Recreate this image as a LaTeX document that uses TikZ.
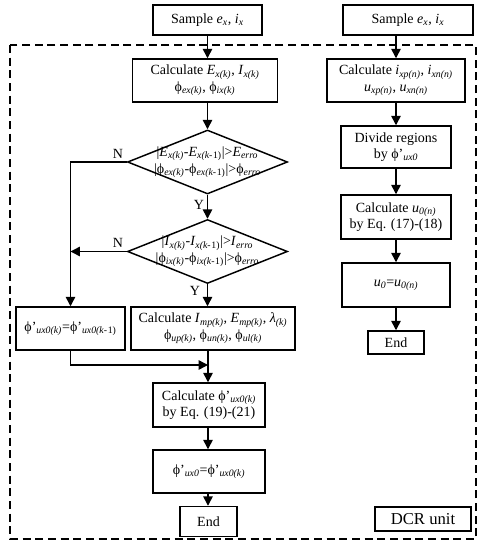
\documentclass[tikz,border=0pt]{standalone}
\usepackage{fontspec}
\setmainfont{Liberation Serif}
\usetikzlibrary{arrows.meta, positioning, shapes.geometric}

\newcommand{\ix}[1]{\textit{#1}}
\newcommand{\lo}[1]{\textsubscript{\itshape #1}}
\newcommand{\phiv}{ϕ}

\begin{document}
\begin{tikzpicture}[x=0.75pt, y=-0.75pt, font=\fontsize{10.5}{12.5}\selectfont,
  boite/.style={draw, line width=1.1pt, align=center, inner sep=1pt},
  losange/.style={draw, diamond, line width=1.1pt, inner sep=0pt, minimum width=120pt, minimum height=48pt},
  fleche/.style={line width=1.1pt, -{Triangle[length=7pt, width=7pt]}}]
  \useasboundingbox (0,0) rectangle (485,550);

  % Cadre DCR
  \draw[line width=1.1pt, dash pattern=on 6pt off 3.5pt] (10,45) rectangle (476,539);
  \node[boite, minimum width=72pt, minimum height=18pt, font=\fontsize{12.5}{14}\selectfont] (dcr) at (423,519) {DCR unit};

  % Colonne gauche
  \node[boite, minimum width=81.75pt, minimum height=22.5pt] (s1) at (207.5,20) {Sample \ix{e}\lo{x}, \ix{i}\lo{x}};
  \node[boite, minimum width=108.75pt, minimum height=32.25pt] (c1) at (205,80.5) {Calculate \ix{E}\lo{x(k)}, \ix{I}\lo{x(k)}\\ \phiv\lo{ex(k)}, \phiv\lo{ix(k)}};
  \node[losange] (d1) at (207.5,162) {};
  \node[align=center] (t1) at (d1) {|\ix{E}\lo{x(k)}-\ix{E}\lo{x(k-}\textsubscript{1)}|>\ix{E}\lo{erro}\\ |\phiv\lo{ex(k)}-\phiv\lo{ex(k-}\textsubscript{1)}|>\phiv\lo{erro}};
  \node[losange] (d2) at (207.5,251.5) {};
  \node[align=center] (t2) at (d2) {|\ix{I}\lo{x(k)}-\ix{I}\lo{x(k-}\textsubscript{1)}|>\ix{I}\lo{erro}\\ |\phiv\lo{ix(k)}-\phiv\lo{ix(k-}\textsubscript{1)}|>\phiv\lo{erro}};
  \node[boite, minimum width=81.75pt, minimum height=32.25pt] (p1) at (70.5,328.5) {\phiv'\lo{ux0(k)}=\phiv'\lo{ux0(k-}\textsubscript{1)}};
  \node[boite, minimum width=123pt, minimum height=32.25pt] (c2) at (213,328.5) {Calculate \ix{I}\lo{mp(k)}, \ix{E}\lo{mp(k)}, \ix{λ}\lo{(k)}\\ \phiv\lo{up(k)}, \phiv\lo{un(k)}, \phiv\lo{ul(k)}};
  \node[boite, minimum width=84pt, minimum height=33pt] (c3) at (209,405) {Calculate \phiv'\lo{ux0(k)}\\ by Eq. (19)-(21)};
  \node[boite, minimum width=84pt, minimum height=32.25pt] (p2) at (209,471.5) {\phiv'\lo{ux0}=\phiv'\lo{ux0(k)}};
  \node[boite, minimum width=42.75pt, minimum height=22.5pt] (e1) at (208.5,521.5) {End};

  % Colonne droite
  \node[boite, minimum width=97.5pt, minimum height=22.5pt] (s2) at (408,20) {Sample \ix{e}\lo{x}, \ix{i}\lo{x}};
  \node[boite, minimum width=103.5pt, minimum height=32.25pt] (r1) at (396,80.5) {Calculate \ix{i}\lo{xp(n)}, \ix{i}\lo{xn(n)}\\ \ix{u}\lo{xp(n)}, \ix{u}\lo{xn(n)}};
  \node[boite, minimum width=82.5pt, minimum height=31.5pt] (r2) at (396,147) {Divide regions\\ by \phiv'\lo{ux0}};
  \node[boite, minimum width=82.5pt, minimum height=33pt] (r3) at (396,217) {Calculate \ix{u}\lo{0(n)}\\ by Eq. (17)-(18)};
  \node[boite, minimum width=81pt, minimum height=33pt] (r4) at (396,285) {\ix{u}\lo{0}=\ix{u}\lo{0(n)}};
  \node[boite, minimum width=42pt, minimum height=17.25pt] (r5) at (396,342.5) {End};

  % Etiquettes
  \node (n1) at (118,154) {N};
  \node (n2) at (118,243) {N};
  \node (y1) at (199,205) {Y};
  \node (y2) at (195,291) {Y};
  \coordinate (m) at (208,365);

  % Fleches
  \draw[fleche] (d1.north |- s1.south) -- (d1.north |- c1.north);
  \draw[fleche] (d1.north |- c1.south) -- (d1.north);
  \draw[fleche] (d1.south) -- (d2.north);
  \draw[fleche] (d1.west) -| (p1.north);
  \draw[fleche] (d2.west) -- (d2.west -| p1.north);
  \draw[fleche] (d2.south) -- (d2.south |- c2.north);
  \draw[fleche] (p1.south) |- (m);
  \draw[fleche] (m |- c2.south) -- (m |- c3.north);
  \draw[fleche] (m |- c3.south) -- (m |- p2.north);
  \draw[fleche] (m |- p2.south) -- (m |- e1.north);
  \draw[fleche] (r1.north |- s2.south) -- (r1.north);
  \draw[fleche] (r1.south) -- (r2.north);
  \draw[fleche] (r2.south) -- (r3.north);
  \draw[fleche] (r3.south) -- (r4.north);
  \draw[fleche] (r4.south) -- (r5.north);
\end{tikzpicture}
\end{document}
